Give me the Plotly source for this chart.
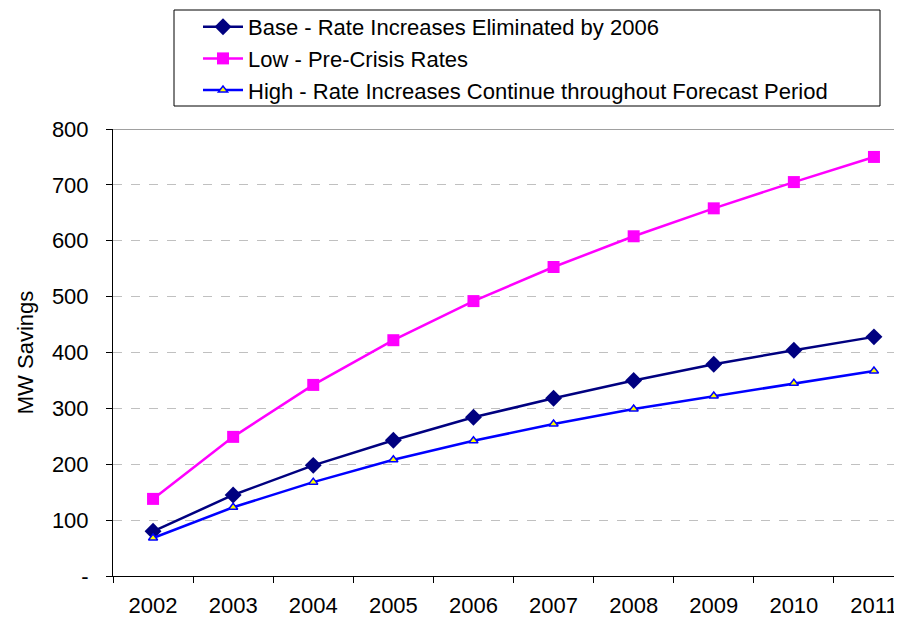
import plotly.graph_objects as go

years = ["2002", "2003", "2004", "2005", "2006", "2007", "2008", "2009", "2010", "2011"]
base = [80, 145, 198, 243, 284, 318, 350, 379, 404, 428]
low = [138, 249, 342, 422, 492, 553, 608, 658, 705, 750]
high = [68, 123, 168, 208, 242, 272, 299, 322, 345, 367]
names = ["Base - Rate Increases Eliminated by 2006",
         "Low - Pre-Crisis Rates",
         "High - Rate Increases Continue throughout Forecast Period"]
ytick_vals = [0, 100, 200, 300, 400, 500, 600, 700, 800]
ytick_text = ["-", "100", "200", "300", "400", "500", "600", "700", "800"]

xs = list(range(len(years)))
FONT = "Liberation Sans, Arial, sans-serif"
FS = 22

fig = go.Figure()
fig.add_trace(go.Scatter(x=xs, y=base, name=names[0], mode="lines+markers",
                         line=dict(color="#000080", width=2.5),
                         marker=dict(symbol="diamond", size=13, color="#000080"),
                         legendgroup="a"))
fig.add_trace(go.Scatter(x=xs, y=low, name=names[1], mode="lines+markers",
                         line=dict(color="#FF00FF", width=2.5),
                         marker=dict(symbol="square", size=12, color="#FF00FF"),
                         legendgroup="b"))
fig.add_trace(go.Scatter(x=xs, y=high, name=names[2], mode="lines+markers",
                         line=dict(color="#0000FF", width=2.5),
                         marker=dict(symbol="triangle-up", size=8, color="#FFFF00",
                                     line=dict(color="#0000FF", width=1.5)),
                         legendgroup="c"))

# page body has an 8px offset
OFF = 8
W, H = 902 - OFF, 618 - OFF
L, R, T, B = 113 - OFF, 902 - OFF, 129 - OFF, 576 - OFF


def px(x):
    return (x - OFF - L) / (R - L)


def py(y):
    return (B - (y - OFF)) / (B - T)


fig.update_layout(
    width=W, height=H,
    margin=dict(l=L, r=W - R, t=T, b=H - B, pad=0, autoexpand=False),
    paper_bgcolor="white", plot_bgcolor="white",
    font=dict(family=FONT, size=FS, color="black"),
    showlegend=True,
    legend=dict(x=px(198), y=py(6), xanchor="left", yanchor="top",
                bgcolor="rgba(0,0,0,0)", borderwidth=0,
                font=dict(family=FONT, size=FS, color="black"),
                tracegroupgap=0, itemwidth=40),
    xaxis=dict(range=[-0.5, 9.35], tickvals=xs, ticktext=years,
               automargin=False,
               showgrid=False, zeroline=False, showline=True,
               linecolor="black", linewidth=1, ticks="", ticklen=0,
               tickfont=dict(size=FS), ticklabelstandoff=10,
               minor=dict(tickvals=[i - 0.5 for i in range(11)], ticks="outside",
                          ticklen=6, tickcolor="black", tickwidth=1, showgrid=False)),
    yaxis=dict(range=[0, 800], tickvals=ytick_vals, ticktext=ytick_text,
               automargin=False,
               showgrid=True, gridcolor="#C0C0C0", griddash="dash", gridwidth=1,
               zeroline=False, showline=True, linecolor="black", linewidth=1,
               ticks="outside", ticklen=6, tickcolor="black",
               tickfont=dict(size=FS), ticklabelstandoff=13,
               title=dict(text="MW Savings", font=dict(size=FS), standoff=12)),
    shapes=[
        dict(type="line", xref="paper", yref="y", x0=0, x1=1, y0=800, y1=800,
             line=dict(color="#808080", width=1.5)),
        dict(type="rect", xref="paper", yref="paper",
             x0=px(174), x1=px(880), y0=py(10), y1=py(106),
             line=dict(color="black", width=1), fillcolor="rgba(0,0,0,0)"),
    ],
)

fig.write_html("out.html")
